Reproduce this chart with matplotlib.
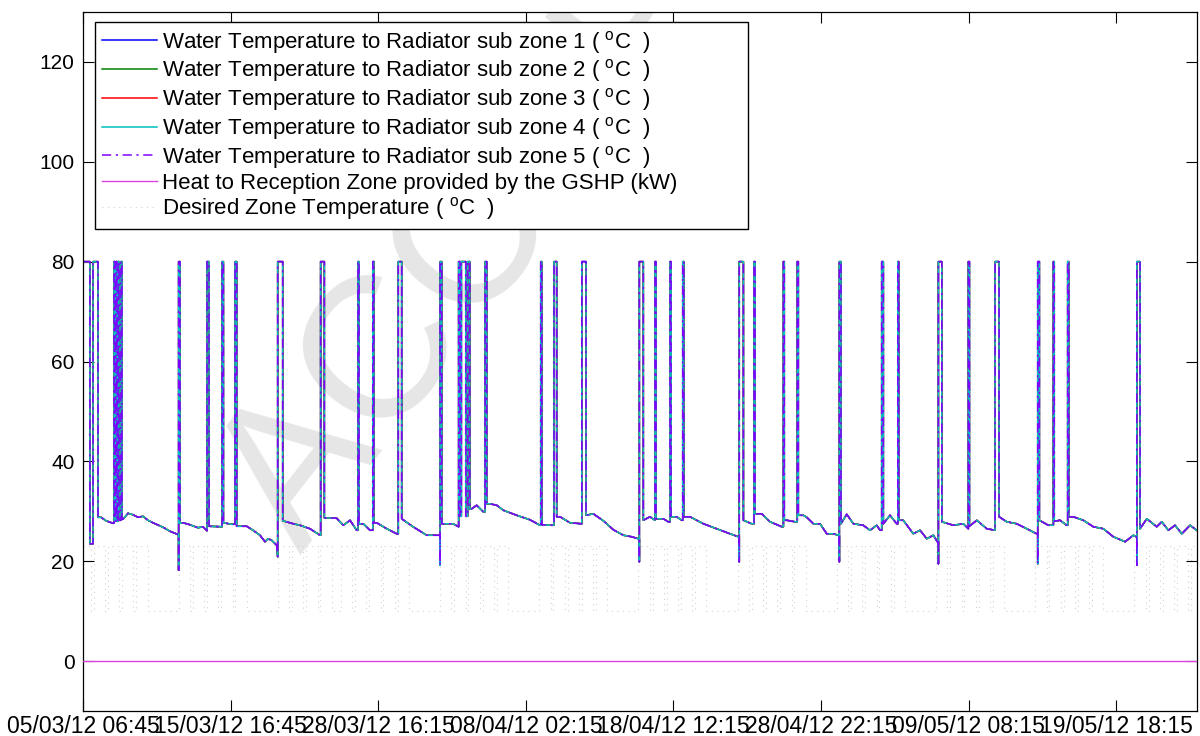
import numpy as np
import matplotlib
matplotlib.use("Agg")
import matplotlib.pyplot as plt

plt.rcParams['font.family'] = ['Liberation Sans', 'DejaVu Sans']
plt.rcParams['mathtext.fontset'] = 'custom'
plt.rcParams['mathtext.rm'] = 'Liberation Sans'
plt.rcParams['mathtext.it'] = 'Liberation Sans:italic'

# ---------------- data (x = 15-minute sample index) ----------------
tick_samples = [0, 1000, 2000, 3000, 4000, 5000, 6000, 7000]
tick_labels = ["05/03/12 06:45", "15/03/12 16:45", "28/03/12 16:15", "08/04/12 02:15",
               "18/04/12 12:15", "28/04/12 22:15", "09/05/12 08:15", "19/05/12 18:15"]
y_ticks = [0, 20, 40, 60, 80, 100, 120]

# water temperature to the radiators (all five sub zones practically coincide)
water_sample = (
    [0, 47, 47, 68, 68, 102, 102, 122, 156, 203]
    + [210, 210, 217, 217, 224, 224, 230, 230, 237, 237, 244, 244, 257, 257, 264, 264]
    + [271, 305, 339, 373, 407, 440, 474, 542, 589, 648, 648, 648, 657, 657]
    + [678, 725, 779, 813, 840, 840, 854, 854, 928, 942, 942, 951, 951, 1007, 1030, 1030,
       1041, 1041, 1064, 1109, 1152, 1199, 1233, 1253, 1278, 1312, 1319, 1319, 1353, 1353]
    + [1425, 1470, 1538, 1606, 1610, 1610, 1635, 1635, 1719, 1764, 1809, 1854, 1863, 1863,
       1870, 1870, 1899, 1944, 1963, 1963, 1970, 1970, 1990, 2058, 2125, 2136, 2136, 2159,
       2159, 2236, 2329, 2405, 2419, 2419, 2419, 2430, 2430]
    + [2507, 2545, 2545, 2554, 2554, 2563, 2563, 2593, 2593, 2606, 2606, 2620, 2620, 2633,
       2667, 2712, 2724, 2724, 2735, 2735, 2757, 2803, 2848, 2938, 3028, 3096, 3101, 3101,
       3108, 3108, 3175, 3191, 3191, 3209, 3209, 3232, 3299, 3379, 3379, 3408, 3408, 3457,
       3525, 3593, 3661, 3717, 3762, 3769, 3769, 3769, 3796, 3796]
    + [3841, 3875, 3875, 3882, 3882, 3932, 3965, 3977, 3977, 3984, 3984, 4022, 4056, 4063,
       4063, 4070, 4070, 4112, 4203, 4293, 4383, 4440, 4446, 4446, 4446, 4474, 4474]
    + [4530, 4546, 4546, 4553, 4553, 4598, 4654, 4734, 4745, 4745, 4751, 4751, 4768, 4824,
       4839, 4839, 4846, 4846, 4880, 4903, 4948, 4993, 5039, 5083, 5117, 5124, 5124, 5124,
       5135, 5135]
    + [5174, 5219, 5286, 5332, 5377, 5400, 5411, 5411, 5422, 5422, 5467, 5513, 5520, 5520,
       5526, 5526, 5557, 5625, 5671, 5716, 5761, 5788, 5795, 5795, 5795, 5818, 5818]
    + [5896, 5964, 5998, 5998, 6005, 6005, 6055, 6123, 6179, 6179, 6206, 6206, 6258, 6326,
       6394, 6461, 6468, 6468, 6468, 6479, 6479]
    + [6540, 6574, 6574, 6580, 6580, 6619, 6664, 6671, 6671, 6678, 6678, 6709, 6777, 6845,
       6913, 6980, 7060, 7116, 7134, 7139, 7139, 7139, 7161, 7161]
    + [7207, 7274, 7308, 7353, 7398, 7444, 7500, 7545]
)
water_temp = (
    [80, 80, 23.5, 23.5, 80, 80, 28.8, 28.8, 28.1, 27.6]
    + [27.6, 80, 80, 28.0, 28.0, 80, 80, 28.0, 28.0, 80, 80, 28.2, 28.2, 80, 80, 28.4]
    + [28.4, 29.6, 29.3, 28.8, 29.0, 28.2, 27.7, 26.8, 26.0, 25.3, 18.2, 80, 80, 27.6]
    + [27.7, 27.3, 26.7, 26.9, 26.1, 80, 80, 27.0, 26.9, 26.9, 80, 80, 27.7, 27.4, 27.4, 80,
       80, 27.0, 27.0, 27.0, 26.2, 25.2, 23.9, 24.5, 24.2, 23.2, 20.9, 80, 80, 28.1]
    + [27.5, 27.2, 26.5, 25.2, 25.2, 80, 80, 28.7, 28.6, 27.2, 28.2, 26.2, 26.2, 80,
       80, 27.5, 27.5, 26.2, 26.2, 80, 80, 27.7, 27.7, 26.5, 25.5, 25.5, 80, 80,
       28.5, 26.9, 25.2, 25.2, 25.2, 19.2, 80, 80, 27.5]
    + [27.5, 26.9, 80, 80, 29.0, 29.0, 80, 80, 29.0, 29.0, 80, 80, 30.5, 30.5,
       31.2, 29.9, 29.9, 80, 80, 31.5, 31.5, 31.2, 30.2, 29.2, 28.3, 27.2, 27.2, 80,
       80, 27.3, 27.2, 27.2, 80, 80, 28.9, 28.9, 27.7, 27.5, 80, 80, 29.2, 29.5,
       28.1, 26.3, 25.2, 24.9, 24.5, 24.5, 19.9, 80, 80, 28.2]
    + [28.9, 28.2, 80, 80, 28.5, 28.5, 27.9, 27.9, 80, 80, 28.9, 28.9, 28.2, 28.2,
       80, 80, 28.9, 28.9, 27.5, 26.5, 25.5, 24.9, 24.9, 19.9, 80, 80, 28.2]
    + [27.5, 27.5, 80, 80, 29.5, 29.5, 27.9, 26.9, 26.9, 80, 80, 28.2, 28.2, 27.9,
       27.9, 80, 80, 29.2, 29.2, 28.8, 27.5, 27.5, 25.5, 25.5, 25.2, 25.2, 19.9, 80,
       80, 27.5]
    + [29.4, 27.5, 27.2, 26.2, 27.2, 26.2, 26.2, 80, 80, 27.5, 29.2, 27.5, 27.5, 80,
       80, 28.2, 28.2, 25.5, 26.2, 24.5, 25.2, 23.9, 23.9, 19.5, 80, 80, 27.9]
    + [27.2, 27.5, 26.5, 80, 80, 27.0, 28.2, 26.5, 26.2, 80, 80, 28.9, 27.9, 27.5,
       26.5, 25.5, 25.5, 19.5, 80, 80, 28.2]
    + [27.2, 27.2, 80, 80, 28.0, 28.2, 27.2, 27.2, 80, 80, 28.9, 28.9, 28.2, 26.9,
       26.5, 24.9, 23.9, 25.2, 24.9, 24.9, 19.2, 80, 80, 26.5]
    + [28.5, 26.9, 27.9, 26.2, 27.2, 25.5, 27.2, 26.2]
)
assert len(water_sample) == len(water_temp)

# heat to reception zone provided by the GSHP (kW): zero over the whole period
heat_sample = [0, 7546]
heat_kw = [0, 0]

# desired zone temperature: occupied (weekday) periods, sample index on / off
setpoint_on = [0, 72, 168, 264, 360,
               648, 744, 840, 936, 1032,
               1320, 1416, 1512, 1608,
               1747, 1843, 1939, 2035, 2131,
               2419, 2515, 2611, 2707, 2803,
               3091, 3187, 3283, 3379, 3475,
               3763, 3859, 3955, 4051, 4147,
               4435, 4531, 4627, 4723, 4819,
               5107, 5203, 5299, 5395, 5491,
               5779, 5875, 5971, 6067, 6163,
               6451, 6547, 6643, 6739, 6835,
               7123, 7219, 7315, 7411, 7507]
setpoint_off = [53, 149, 245, 341, 437,
                725, 821, 917, 1013, 1109,
                1397, 1493, 1589, 1685,
                1824, 1920, 2016, 2112, 2208,
                2496, 2592, 2688, 2784, 2880,
                3168, 3264, 3360, 3456, 3552,
                3840, 3936, 4032, 4128, 4224,
                4512, 4608, 4704, 4800, 4896,
                5184, 5280, 5376, 5472, 5568,
                5856, 5952, 6048, 6144, 6240,
                6528, 6624, 6720, 6816, 6912,
                7200, 7296, 7392, 7488, 7546]
setpoint_high = 23.0
setpoint_low = 10.0
end_sample = 7546

# --------------- build step series for the set point ---------------
sp_x, sp_y = [], []
for on, off in zip(setpoint_on, setpoint_off):
    if sp_x or on > 0:
        sp_x += [on]
        sp_y += [setpoint_low]
    sp_x += [on, off]
    sp_y += [setpoint_high, setpoint_high]
    if off < end_sample:
        sp_x += [off]
        sp_y += [setpoint_low]
if sp_x[-1] < end_sample:
    sp_x.append(end_sample)
    sp_y.append(sp_y[-1])

# ---------------- figure ----------------
W, H = 1200, 736
fig = plt.figure(figsize=(W / 100, H / 100), dpi=100)
ax = fig.add_axes([83 / W, 25 / H, 1114 / W, 699 / H])

# watermark
ax.text(300 / W, 1 - 555 / H, "ACCEPTED", transform=fig.transFigure,
        fontsize=145, color="#e6e6e6", rotation=52, rotation_mode="anchor",
        ha="left", va="baseline", zorder=0.5, clip_on=True)

zone_colors = ["#0000ff", "#008000", "#ff0000", "#00bfbf"]
lines = []
for i, c in enumerate(zone_colors):
    l, = ax.plot(water_sample, water_temp, color=c, lw=1.1, zorder=2 + i * 0.1,
                 label="Water Temperature to Radiator sub zone %d ( $^{\\mathrm{o}}$C  )" % (i + 1))
    lines.append(l)
l5, = ax.plot(water_sample, water_temp, color="#8000ff", lw=1.1, ls=(0, (6, 3, 1.5, 3)),
              zorder=2.5, label="Water Temperature to Radiator sub zone 5 ( $^{\\mathrm{o}}$C  )")
lines.append(l5)
lh, = ax.plot(heat_sample, heat_kw, color="#e040e0", lw=1.0, zorder=2.6,
              label="Heat to Reception Zone provided by the GSHP (kW)")
lines.append(lh)
ls_, = ax.plot(sp_x, sp_y, color="#d2d2d2", lw=0.8, ls=(0, (1, 4)), zorder=1.5,
               label="Desired Zone Temperature ( $^{\\mathrm{o}}$C  )")
lines.append(ls_)

ax.set_xlim(0, 7547)
ax.set_ylim(-10, 130)
ax.set_xticks(tick_samples)
ax.set_xticklabels(tick_labels)
ax.set_yticks(y_ticks)
ax.tick_params(axis="both", direction="in", length=8, width=0.8, top=True, right=True,
               colors="black")
ax.tick_params(axis="x", labelsize=16.5, pad=3)
ax.tick_params(axis="y", labelsize=15, pad=6)
for s in ax.spines.values():
    s.set_linewidth(0.9)
    s.set_color("black")

x0 = (95 - 83) / 1114
ytop = 1 - (22 - 12) / 699
wid = (748 - 95) / 1114
leg = ax.legend(handles=lines, loc="upper left",
                bbox_to_anchor=(x0, ytop - 0.3, wid, 0.3), mode="expand",
                borderaxespad=0, fontsize=16.0, frameon=True, fancybox=False,
                edgecolor="black", framealpha=1, handlelength=2.5, handletextpad=0.2,
                labelspacing=0.08, borderpad=0.3)
leg.get_frame().set_linewidth(1.0)
leg.set_zorder(5)

fig.savefig("out.png", dpi=100, facecolor="white")
